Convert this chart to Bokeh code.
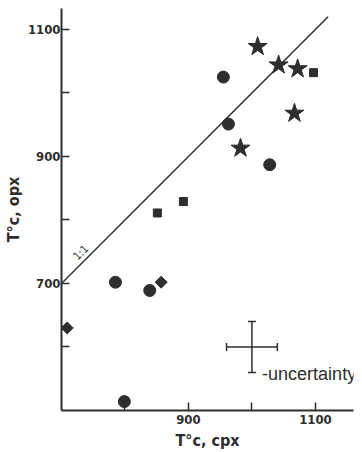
import numpy as np
from bokeh.plotting import figure
from bokeh.models import Range1d, FixedTicker, Whisker, TeeHead, ColumnDataSource, Label
from bokeh.core.properties import value
from bokeh.embed import file_html
from bokeh.resources import INLINE

# ---- data ----
star_x = [1009, 1042, 1072, 1067, 982]
star_y = [1073, 1044, 1038, 968, 913]

circle_x = [955, 963, 1028, 785, 839, 799]
circle_y = [1025, 951, 887, 702, 689, 514]

square_x = [1097, 892, 851]
square_y = [1032, 829, 811]

diamond_x = [857, 709]
diamond_y = [702, 630]

one_to_one = [700, 1120]

unc_x = [1000]
unc_y = [600]
unc_err = [40]

y_ticks = [600, 700, 800, 900, 1000, 1100]
x_ticks = [800, 900, 1000, 1100]
y_labels = {600: "", 700: "700", 800: "", 900: "900", 1000: "", 1100: "1100"}
x_labels = {800: "", 900: "900", 1000: "", 1100: "1100"}

INK = "#2e2e2e"
NARROW = "DejaVu Sans Condensed"

p = figure(width=362, height=452, output_backend="svg", toolbar_location=None,
           x_range=Range1d(700, 1160), y_range=Range1d(500, 1133),
           min_border_left=10, min_border_right=9, min_border_top=8, min_border_bottom=10)
p.outline_line_color = None
p.xgrid.visible = False
p.ygrid.visible = False
p.background_fill_color = "white"
p.border_fill_color = "white"

for ax, ticks, labels, lab, ls, als in [(p.xaxis[0], x_ticks, x_labels, "T°c, cpx", 4, 4),
                                        (p.yaxis[0], y_ticks, y_labels, "T°c, opx", 1, 2)]:
    ax.ticker = FixedTicker(ticks=ticks)
    ax.major_label_overrides = labels
    ax.minor_tick_line_color = None
    ax.major_tick_in = 8
    ax.major_tick_out = 0
    ax.axis_line_width = 2
    ax.axis_line_color = INK
    ax.major_tick_line_width = 1.5
    ax.major_tick_line_color = INK
    ax.major_label_text_font = NARROW
    ax.major_label_text_font_style = "bold"
    ax.major_label_text_font_size = "13px"
    ax.major_label_text_color = INK
    ax.axis_label = lab
    ax.axis_label_text_font = NARROW
    ax.axis_label_text_font_style = "bold"
    ax.axis_label_text_font_size = "16px"
    ax.axis_label_text_color = INK
    ax.major_label_standoff = ls
    ax.axis_label_standoff = als

# 1:1 line
p.line(one_to_one, one_to_one, line_color=INK, line_width=1.5)
p.text(x=[738], y=[738], text=["1:1"], angle=np.pi / 4, text_align="center",
       text_baseline="bottom", text_font=value(NARROW), text_font_size="11px",
       text_color=INK, y_offset=-2)

# markers
p.scatter(star_x, star_y, marker="star", size=20, fill_color=INK, line_color=INK)
p.scatter(circle_x, circle_y, marker="circle", size=12, fill_color=INK, line_color=INK)
p.scatter(square_x, square_y, marker="square", size=8, fill_color=INK, line_color=INK)
p.scatter(diamond_x, diamond_y, marker="square", angle=np.pi / 4, size=8.5,
          fill_color=INK, line_color=INK)

# uncertainty cross
ux = np.array(unc_x); uy = np.array(unc_y); ue = np.array(unc_err)
src = ColumnDataSource(dict(x=ux, y=uy, xl=ux - ue, xu=ux + ue, yl=uy - ue, yu=uy + ue))
p.add_layout(Whisker(source=src, base="x", lower="yl", upper="yu", dimension="height",
                     line_color=INK, line_width=1.5,
                     upper_head=TeeHead(size=8, line_color=INK, line_width=1.5),
                     lower_head=TeeHead(size=8, line_color=INK, line_width=1.5)))
p.add_layout(Whisker(source=src, base="y", lower="xl", upper="xu", dimension="width",
                     line_color=INK, line_width=1.5,
                     upper_head=TeeHead(size=8, line_color=INK, line_width=1.5),
                     lower_head=TeeHead(size=8, line_color=INK, line_width=1.5)))
p.add_layout(Label(x=unc_x[0] + 16, y=unc_y[0] - 43, text="-uncertainty",
                   text_align="left", text_baseline="alphabetic",
                   text_font="Liberation Sans", text_font_size="18px", text_color=INK))

open("out.html", "w").write(file_html(p, INLINE))
